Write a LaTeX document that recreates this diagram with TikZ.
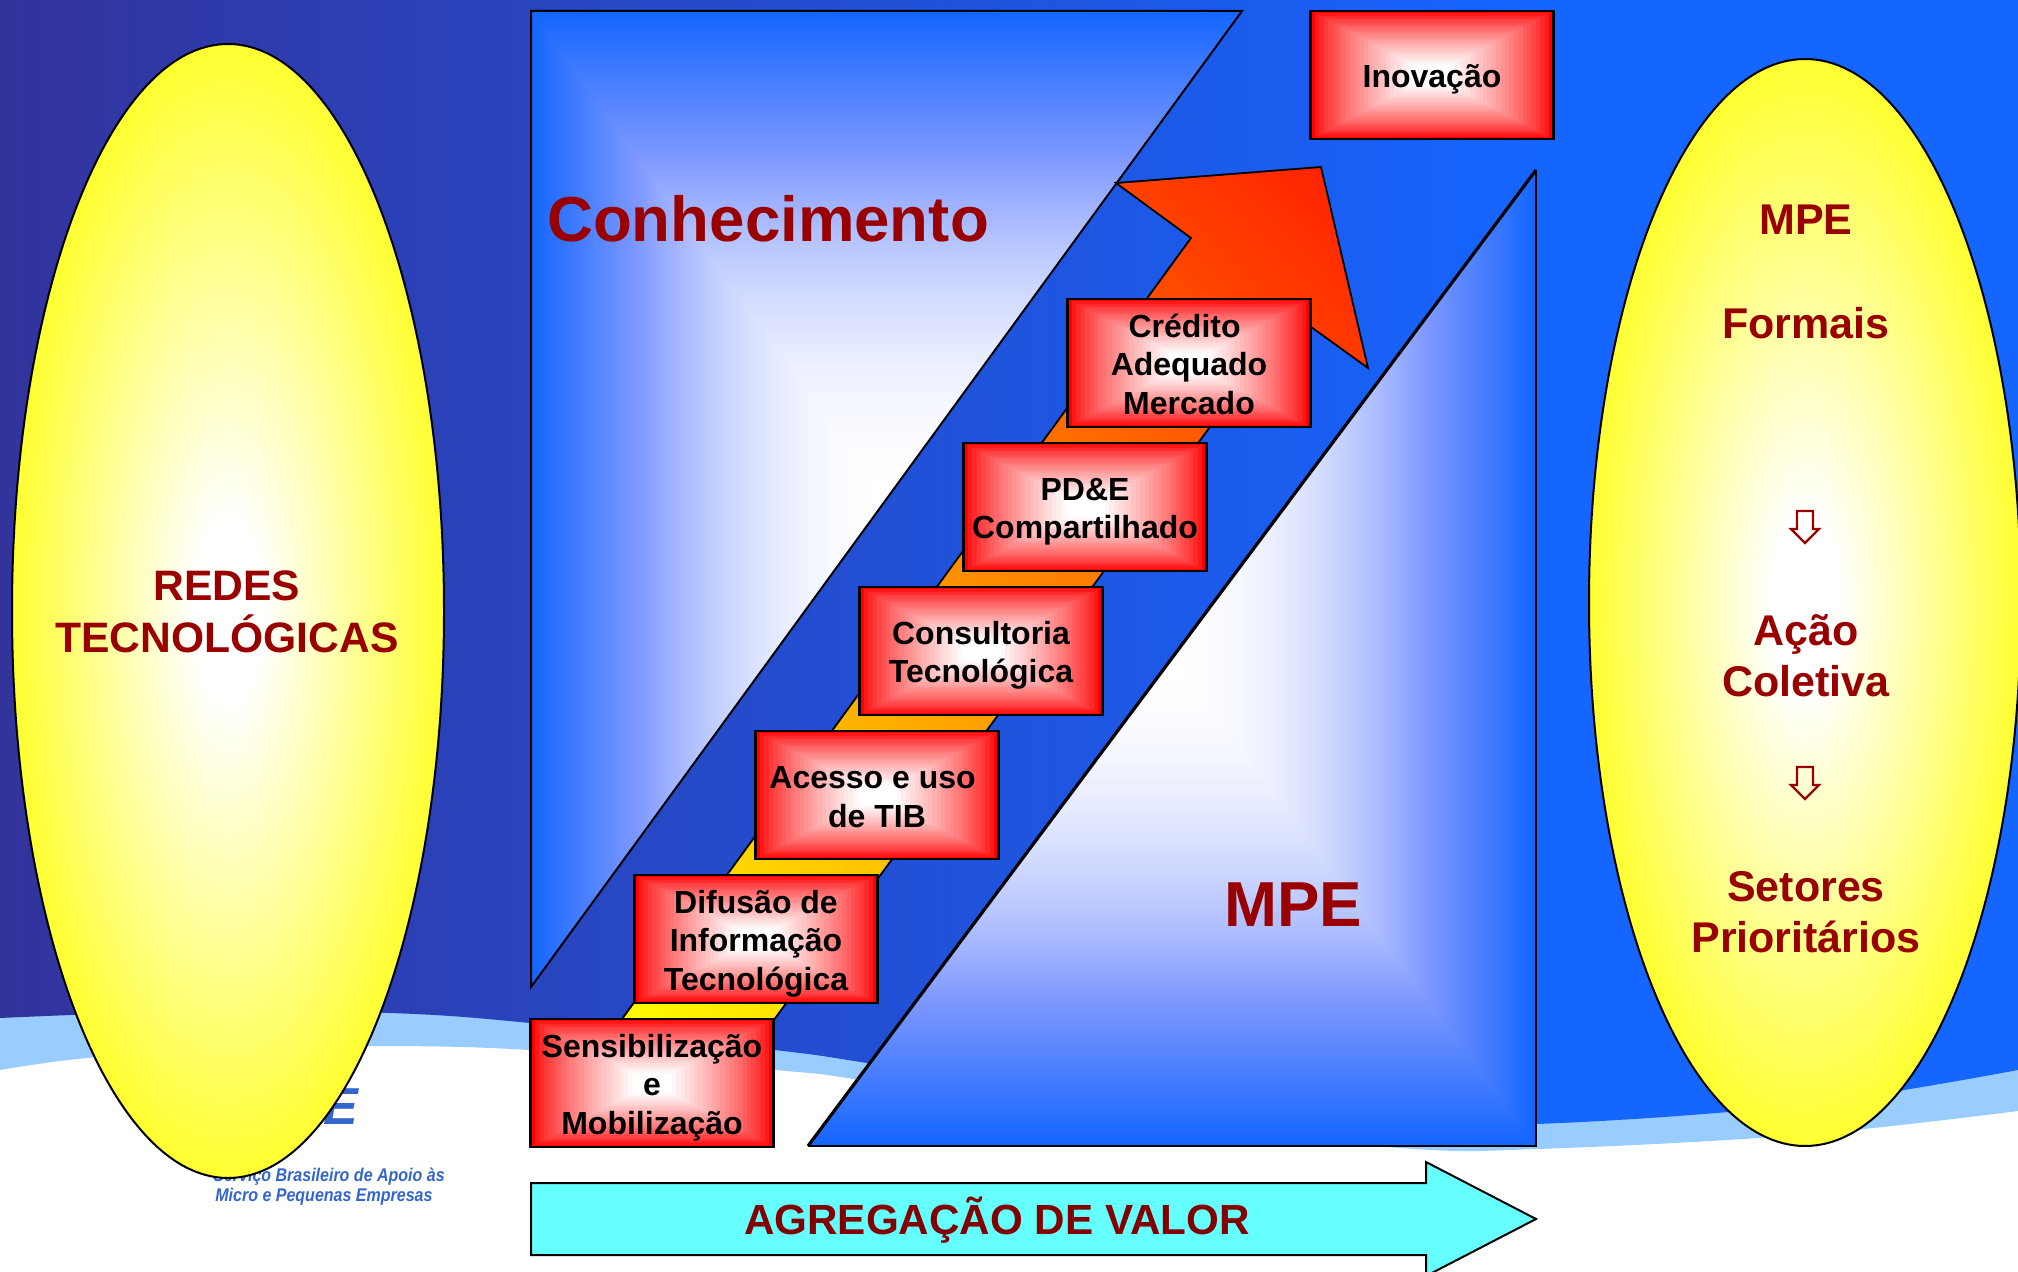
\documentclass[tikz,border=0pt]{standalone}
\usepackage{fontspec}
\setmainfont{Liberation Sans}
\usetikzlibrary{calc,shapes.geometric}
\definecolor{bgL}{HTML}{33339C}
\definecolor{bgR}{HTML}{1565FF}
\definecolor{swoosh}{HTML}{99CCFF}
\definecolor{gblue}{HTML}{1566FF}
\definecolor{midblue}{HTML}{8099FF}
\definecolor{dred}{HTML}{990000}
\definecolor{aqua}{HTML}{66FFFF}
\definecolor{logoblue}{HTML}{3366CC}
\pgfdeclarehorizontalshading{bgshade}{100bp}{color(0bp)=(bgL); color(25bp)=(bgL); color(63bp)=(bgR); color(100bp)=(bgR)}
\pgfdeclareradialshading{ellglow}{\pgfpointorigin}{color(0bp)=(white); color(4bp)=(white); color(30bp)=(yellow); color(50bp)=(yellow)}
\newcommand{\rectgrad}[4]{%
  \foreach \i in {0,...,99}{%
    \pgfmathsetmacro\ff{\i/200}%
    \pgfmathsetmacro\pa{max(0,100*(1-\ff/.15))}%
    \pgfmathsetmacro\uu{max(0,(\ff-.15)/.35)}%
    \pgfmathsetmacro\pb{100*(1-\uu)*(1-\uu)}%
    \fill[gblue!\pa!midblue!\pb!white] ({#1+\ff*(#3-#1)},{#2+\ff*(#4-#2)}) rectangle ({#3-\ff*(#3-#1)},{#4-\ff*(#4-#2)});}}
\newcommand{\topr}{\rule{0pt}{16pt}}
\newcommand{\botr}{\rule[-3pt]{0pt}{3pt}}
\tikzset{
  gradbox/.style={rectangle,draw=black,line width=1.3pt,minimum width=121.5pt,minimum height=64pt,
    inner sep=0pt,align=center,text=black,font=\fontsize{16}{19.3}\selectfont\bfseries,
    path picture={\foreach \i in {0,...,23}{%
      \pgfmathsetmacro\ff{\i/55}\pgfmathsetmacro\pp{100*(\i/23)^0.75}%
      \fill[white!\pp!red] ($(path picture bounding box.south west)!\ff!(path picture bounding box.north east)$)
        rectangle ($(path picture bounding box.north east)!\ff!(path picture bounding box.south west)$);}}},
  glowell/.style={ellipse,draw=black,line width=1pt,shading=ellglow,inner sep=0pt,minimum width=216pt},
  redtext/.style={text=dred,font=\fontsize{21.5}{25.7}\selectfont\bfseries,align=center,inner sep=0pt},
  bigred/.style={text=dred,font=\fontsize{31.8}{36}\selectfont\bfseries,inner sep=0pt},
  logotext/.style={text=logoblue,font=\fontsize{9.2}{10}\selectfont\bfseries\itshape,inner sep=0pt,anchor=west},
  tri/.style={draw=black,line width=1pt,line join=miter},
  downarr/.pic={\draw[dred,line width=1.2pt,line join=miter] (-8,0)--(8,0)--(8,18)--(14,18)--(0,32)--(-14,18)--(-8,18)--cycle;}
}
\begin{document}
\begin{tikzpicture}[x=0.5pt,y=-0.5pt]
\useasboundingbox (0,0) rectangle (2018,1272);
\clip (0,0) rectangle (2018,1272);
% background
\fill[white] (0,0) rectangle (2018,1272);
\fill[swoosh] (0,0) -- (0,1070) -- plot[smooth,tension=.6] coordinates {(0,1070) (87,1058) (230,1049) (370,1046) (530,1050) (775,1070) (860,1080) (1100,1120) (1400,1148) (1537,1149) (1800,1135) (2018,1111)} -- (2018,0) -- cycle;
\shade[shading=bgshade] (0,0) -- (0,1018) -- plot[smooth,tension=.6] coordinates {(0,1018) (200,1011) (390,1013) (530,1023) (775,1050) (867,1063) (1100,1100) (1350,1122) (1537,1124) (1800,1105) (2018,1070)} -- (2018,0) -- cycle;
% logo remains, behind the left ellipse
\node[text=logoblue,font=\fontsize{26}{28}\selectfont\bfseries\itshape,inner sep=0pt,anchor=east] (logoE) at (359,1107) {E};
\node[logotext] (logoA) at (213,1177) {\scalebox{.87}[1]{Serviço Brasileiro de Apoio às}};
\node[logotext] (logoB) at (215,1197) {\scalebox{.87}[1]{Micro e Pequenas Empresas}};
% ellipses
\node[glowell,minimum height=567pt] (redes) at (228,611) {};
\node[redtext,font=\fontsize{21.3}{25.7}\selectfont\bfseries] (redest) at (227,612) {REDES\\TECNOLÓGICAS};
\node[glowell,minimum height=543.5pt] (mpeell) at (1805,602.5) {};
\node[redtext] (t1) at (1806,220) {MPE};
\node[redtext] (t2) at (1806,323) {Formais};
\node[redtext] (t3) at (1806,656) {Ação\\Coletiva};
\node[redtext] (t4) at (1806,912) {Setores\\Prioritários};
\pic at (1805,511) {downarr};
\pic at (1805,767) {downarr};
% Conhecimento triangle
\begin{scope}
\clip (531,11) -- (1242,11) -- (531,987) -- cycle;
\rectgrad{531}{11}{1242}{987}
\end{scope}
\draw[tri] (531,11) -- (1242,11) -- (531,987) -- cycle;
\node[bigred] (conh) at (768,219) {Conhecimento};
% MPE triangle
\begin{scope}
\clip (808,1146) -- (1536,170) -- (1536,1146) -- cycle;
\rectgrad{808}{170}{1536}{1146}
\end{scope}
\draw[tri] (1536,170) -- (1536,1146) -- (808,1146);
\draw[tri,line width=1.6pt] (808,1146) -- (1536,170);
\node[bigred] (mpe) at (1293,905) {MPE};
% big arrow
\begin{scope}
\clip (563,1100) -- (1191,238) -- (1116,183) -- (1321,167) -- (1368,368) -- (1293,314) -- (715,1100) -- cycle;
\shade[bottom color=yellow,top color=red,shading angle=-45] (350,-145) rectangle (1650,1155);
\end{scope}
\draw[tri,line width=0.9pt] (563,1100) -- (1191,238) -- (1116,183) -- (1321,167) -- (1368,368) -- (1293,314) -- (715,1100) -- cycle;
% boxes
\node[gradbox] (sens) at (652,1083) {\topr Sensibilização\\e\\Mobilização\botr};
\node[gradbox] (difu) at (756,939) {\topr Difusão de\\Informação\\Tecnológica\botr};
\node[gradbox] (aces) at (877,795) {\topr Acesso e uso\hspace*{4.4pt}\\de TIB\botr};
\node[gradbox] (cons) at (981,651) {\topr Consultoria\\Tecnológica\botr};
\node[gradbox] (pde) at (1085,507) {\topr PD\&E\\Compartilhado\botr};
\node[gradbox] (cred) at (1189,363) {\topr Crédito\hspace*{4.4pt}\\Adequado\\Mercado\botr};
\node[gradbox] (inov) at (1432,75) {\topr Inovação\botr};
% value arrow
\draw[fill=aqua,draw=black,line width=1pt,line join=miter] (531,1183) -- (1426,1183) -- (1426,1162) -- (1536,1219) -- (1426,1276) -- (1426,1255) -- (531,1255) -- cycle;
\node[text=dred!85!black,font=\fontsize{21.1}{24}\selectfont\bfseries,inner sep=0pt] (agreg) at (997,1220) {AGREGAÇÃO DE VALOR};
\end{tikzpicture}
\end{document}
